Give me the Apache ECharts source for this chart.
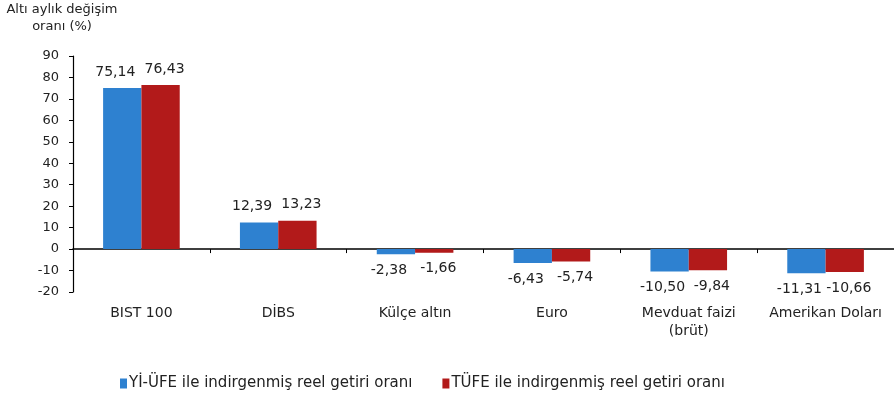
<!DOCTYPE html>
<html><head><meta charset="utf-8">
<script src="https://cdn.jsdelivr.net/npm/echarts@6/dist/echarts.min.js"></script>
<style>html,body{margin:0;padding:0;background:#fff}#c{width:894px;height:402px}</style>
</head><body><div id="c"></div>
<script>
const categories = ['BIST 100', 'DİBS', 'Külçe altın', 'Euro', 'Mevduat faizi\n(brüt)', 'Amerikan Doları'];
const seriesNames = ['Yİ-ÜFE ile indirgenmiş reel getiri oranı', 'TÜFE ile indirgenmiş reel getiri oranı'];
const yiUfe = [75.14, 12.39, -2.38, -6.43, -10.50, -11.31];
const tufe = [76.43, 13.23, -1.66, -5.74, -9.84, -10.66];
const yTicks = [-20, -10, 0, 10, 20, 30, 40, 50, 60, 70, 80, 90];
const yTitle = 'Altı aylık değişim\noranı (%)';

const FONT = '"DejaVu Sans", Verdana, sans-serif';
const TXT = '#222';
const fmt = v => v.toFixed(2).replace('.', ',');
function mkData(arr) {
  return arr.map(v => ({ value: v, label: { position: v >= 0 ? 'top' : 'bottom' } }));
}
const chart = echarts.init(document.getElementById('c'));
chart.setOption({
  animation: false,
  backgroundColor: '#fff',
  graphic: [{
    type: 'text', x: 62, y: 1,
    style: { text: yTitle, font: '13px ' + FONT, fill: TXT, align: 'center', textAlign: 'center', lineHeight: 17 }
  }],
  legend: {
    bottom: 6, left: 115,
    itemWidth: 7, itemHeight: 10, itemGap: 30,
    icon: 'rect',
    textStyle: { fontFamily: FONT, fontSize: 15, color: TXT, padding: [0, 0, 0, -3] },
    data: seriesNames
  },
  grid: { left: 73, width: 828, top: 56, bottom: 110 },
  xAxis: [{
    type: 'category', data: categories, position: 'bottom',
    axisLine: { show: false, onZero: false }, axisTick: { show: false },
    axisLabel: { fontFamily: FONT, fontSize: 14, color: TXT, margin: 12, interval: 0, lineHeight: 18 }
  }, {
    type: 'category', data: categories, position: 'bottom',
    axisLine: { show: true, onZero: true, lineStyle: { color: '#000', width: 1.5 } },
    axisTick: { show: true, inside: false, length: 4, lineStyle: { color: '#000' } },
    axisLabel: { show: false }
  }],
  yAxis: {
    type: 'value', min: yTicks[0], max: yTicks[yTicks.length - 1], interval: 10,
    axisLine: { show: true, lineStyle: { color: '#000', width: 1.2 } },
    axisTick: { show: true, length: 4, lineStyle: { color: '#000' } },
    splitLine: { show: false },
    axisLabel: { fontFamily: FONT, fontSize: 13, color: TXT, margin: 14 }
  },
  series: [{
    name: seriesNames[0], type: 'bar', data: mkData(yiUfe),
    barWidth: '28%', barGap: '0%',
    itemStyle: { color: '#2e81d0' },
    label: { show: true, distance: 9, offset: [-7, 0], fontFamily: FONT, fontSize: 14, color: TXT, formatter: p => fmt(p.value) }
  }, {
    name: seriesNames[1], type: 'bar', data: mkData(tufe),
    barWidth: '28%', barGap: '0%',
    itemStyle: { color: '#b21a1a' },
    label: { show: true, distance: 9, offset: [4, 0], fontFamily: FONT, fontSize: 14, color: TXT, formatter: p => fmt(p.value) }
  }]
});
</script></body></html>
